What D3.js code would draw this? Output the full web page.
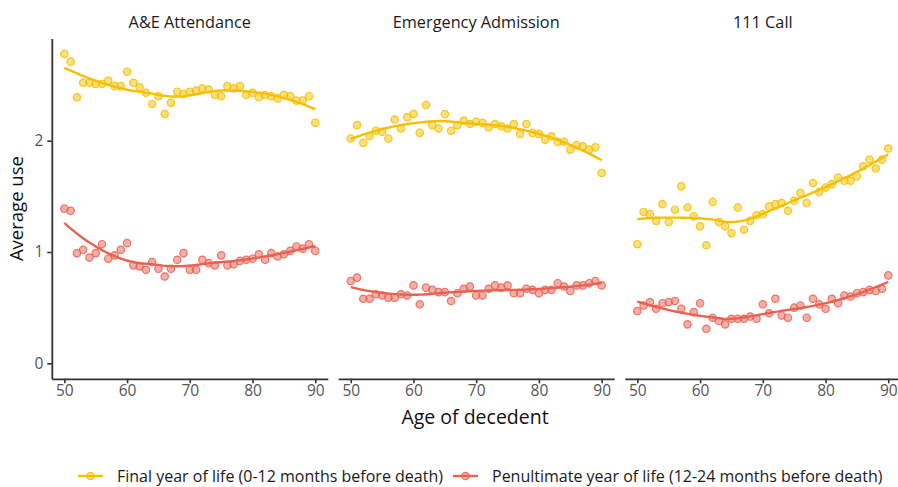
<!DOCTYPE html>
<html>
<head>
<meta charset="utf-8">
<script src="https://cdn.jsdelivr.net/npm/d3@7"></script>
<style>
  body { margin: 0; background: #fff; }
  text { font-family: "Open Sans", "Noto Sans", sans-serif; }
</style>
</head>
<body>
<svg id="chart" width="898" height="487"></svg>
<script>
/* ───────────── DATA ───────────── */
const panels = ["A&E Attendance", "Emergency Admission", "111 Call"];
const seriesNames = ["Final year of life (0-12 months before death)",
                     "Penultimate year of life (12-24 months before death)"];
const ages = [50,51,52,53,54,55,56,57,58,59,60,61,62,63,64,65,66,67,68,69,70,
              71,72,73,74,75,76,77,78,79,80,81,82,83,84,85,86,87,88,89,90];
const xTicks = [50, 60, 70, 80, 90];
const yTicks = [0, 1, 2];

const aeFinal = [2.78,2.71,2.39,2.52,2.52,2.51,2.51,2.54,2.49,2.49,2.62,2.52,2.48,2.43,2.33,2.40,
                 2.24,2.34,2.44,2.42,2.44,2.45,2.47,2.46,2.41,2.40,2.49,2.47,2.49,2.41,2.43,2.39,
                 2.41,2.40,2.38,2.41,2.40,2.36,2.36,2.40,2.16];
const aePenult = [1.39,1.37,0.99,1.02,0.95,0.99,1.07,0.94,0.97,1.02,1.08,0.88,0.87,0.84,0.91,0.85,
                  0.78,0.85,0.93,0.99,0.84,0.84,0.93,0.90,0.88,0.97,0.88,0.89,0.92,0.93,0.94,0.98,
                  0.93,0.99,0.96,0.98,1.01,1.05,1.03,1.07,1.01];
const emFinal = [2.02,2.14,1.98,2.04,2.09,2.08,2.02,2.19,2.11,2.21,2.24,2.07,2.32,2.14,2.11,2.24,
                 2.09,2.14,2.18,2.15,2.17,2.16,2.12,2.15,2.13,2.11,2.15,2.06,2.15,2.07,2.06,2.01,
                 2.04,1.99,1.99,1.92,1.96,1.95,1.92,1.94,1.71];
const emPenult = [0.74,0.77,0.58,0.58,0.62,0.61,0.59,0.59,0.62,0.61,0.70,0.53,0.68,0.66,0.64,0.64,
                  0.56,0.63,0.67,0.69,0.61,0.61,0.67,0.70,0.68,0.70,0.63,0.63,0.67,0.66,0.63,0.66,
                  0.66,0.72,0.69,0.65,0.70,0.70,0.72,0.74,0.70];
const callFinal = [1.07,1.36,1.34,1.28,1.43,1.27,1.38,1.59,1.40,1.32,1.23,1.06,1.45,1.27,1.23,1.17,
                   1.40,1.20,1.28,1.33,1.34,1.41,1.43,1.44,1.37,1.46,1.53,1.44,1.62,1.54,1.58,1.61,
                   1.67,1.64,1.64,1.68,1.77,1.83,1.75,1.83,1.93];
const callPenult = [0.47,0.52,0.55,0.49,0.54,0.55,0.56,0.49,0.35,0.46,0.54,0.31,0.41,0.38,0.35,0.40,
                    0.40,0.40,0.42,0.40,0.53,0.45,0.58,0.43,0.41,0.50,0.52,0.41,0.58,0.53,0.49,0.58,
                    0.54,0.61,0.60,0.63,0.64,0.66,0.65,0.67,0.79];

const panelData = [[aeFinal, aePenult], [emFinal, emPenult], [callFinal, callPenult]];
const colors = ["#F5C000", "#EA6152"];

/* ───────────── LAYOUT ───────────── */
const svg = d3.select("#chart");
const panelX = [51.8, 338.2, 624.8], panelW = 276;
const plotTop = 38.4, plotBottom = 378.8;

const yMax = d3.max(panelData.flat(2));
const yPad = yMax * 0.05;
const y = d3.scaleLinear().domain([0 - yPad, yMax + yPad]).range([plotBottom, plotTop]);

/* loess (span 0.75, degree 2, tricube), like geom_smooth's default */
function loess(xs, ys, span, grid) {
  const q = Math.floor(xs.length * span);
  return grid.map(x0 => {
    const d = xs.map(x => Math.abs(x - x0));
    const h = d.slice().sort((a, b) => a - b)[q - 1];
    const S = [[0,0,0],[0,0,0],[0,0,0]], b = [0,0,0];
    xs.forEach((x, i) => {
      const u = d[i] / h;
      if (u >= 1) return;
      const w = Math.pow(1 - u * u * u, 3);
      const t = x - x0, v = [1, t, t * t];
      for (let r = 0; r < 3; r++) {
        b[r] += w * v[r] * ys[i];
        for (let c = 0; c < 3; c++) S[r][c] += w * v[r] * v[c];
      }
    });
    const det = m => m[0][0]*(m[1][1]*m[2][2]-m[1][2]*m[2][1])
                   - m[0][1]*(m[1][0]*m[2][2]-m[1][2]*m[2][0])
                   + m[0][2]*(m[1][0]*m[2][1]-m[1][1]*m[2][0]);
    const S0 = S.map((row, r) => [b[r], row[1], row[2]]);
    return [x0, det(S0) / det(S)];
  });
}

const grid = d3.range(80).map(i => 50 + i * 40 / 79);

function styleAxis(a) {
  a.select(".domain").attr("stroke", "#333").attr("stroke-width", 1.8);
  a.selectAll(".tick line").attr("stroke", "#333").attr("stroke-width", 1.6);
  a.selectAll(".tick text").attr("fill", "#555").style("font-size", "15.5px")
    .style("font-family", '"Open Sans", sans-serif');
}

panels.forEach((name, p) => {
  const x = d3.scaleLinear().domain([48, 92]).range([panelX[p], panelX[p] + panelW]);
  const g = svg.append("g");

  // strip title
  g.append("text")
    .attr("x", panelX[p] + panelW / 2).attr("y", 28)
    .attr("text-anchor", "middle")
    .attr("fill", "#1a1a1a")
    .style("font-size", "16.3px")
    .text(name);

  // x axis
  const xa = g.append("g")
    .attr("transform", `translate(0,${plotBottom})`)
    .call(d3.axisBottom(x).tickValues(xTicks).tickSize(4.5).tickSizeOuter(0).tickPadding(2));
  styleAxis(xa);

  // y axis only on first panel
  if (p === 0) {
    const ya = g.append("g")
      .attr("transform", `translate(${panelX[0]},0)`)
      .call(d3.axisLeft(y).tickValues(yTicks).tickFormat(d3.format("d"))
        .tickSize(4.5).tickSizeOuter(0).tickPadding(4));
    styleAxis(ya);
  }

  panelData[p].forEach((vals, s) => {
    const col = colors[s];
    const fit = loess(ages, vals, 0.75, grid);
    g.append("path")
      .datum(fit)
      .attr("fill", "none")
      .attr("stroke", col)
      .attr("stroke-width", 2.4)
      .attr("d", d3.line().x(d => x(d[0])).y(d => y(d[1])));

    g.selectAll(null)
      .data(ages.map((a, i) => [a, vals[i]]))
      .join("circle")
      .attr("cx", d => x(d[0]))
      .attr("cy", d => y(d[1]))
      .attr("r", 3.7)
      .attr("fill", col).attr("fill-opacity", 0.5)
      .attr("stroke", col).attr("stroke-opacity", 0.85).attr("stroke-width", 1.2);
  });
});

/* axis titles */
svg.append("text")
  .attr("transform", `translate(23,${(plotTop + plotBottom) / 2}) rotate(-90)`)
  .attr("text-anchor", "middle")
  .attr("fill", "#111")
  .style("font-size", "18.5px")
  .text("Average use");

svg.append("text")
  .attr("x", 475).attr("y", 424)
  .attr("text-anchor", "middle")
  .attr("fill", "#111")
  .style("font-size", "19.5px")
  .text("Age of decedent");

/* legend */
const legendX = [78, 453], legendY = 476;
seriesNames.forEach((label, s) => {
  const lg = svg.append("g").attr("transform", `translate(${legendX[s]},${legendY})`);
  lg.append("line").attr("x1", 0).attr("x2", 25)
    .attr("stroke", colors[s]).attr("stroke-width", 2.4);
  lg.append("circle").attr("cx", 12.5).attr("r", 3.7)
    .attr("fill", colors[s]).attr("fill-opacity", 0.5)
    .attr("stroke", colors[s]).attr("stroke-opacity", 0.85).attr("stroke-width", 1.2);
  lg.append("text").attr("x", 39).attr("y", 5.5)
    .attr("fill", "#1a1a1a")
    .style("font-size", "16px")
    .text(label);
});
</script>
</body>
</html>
